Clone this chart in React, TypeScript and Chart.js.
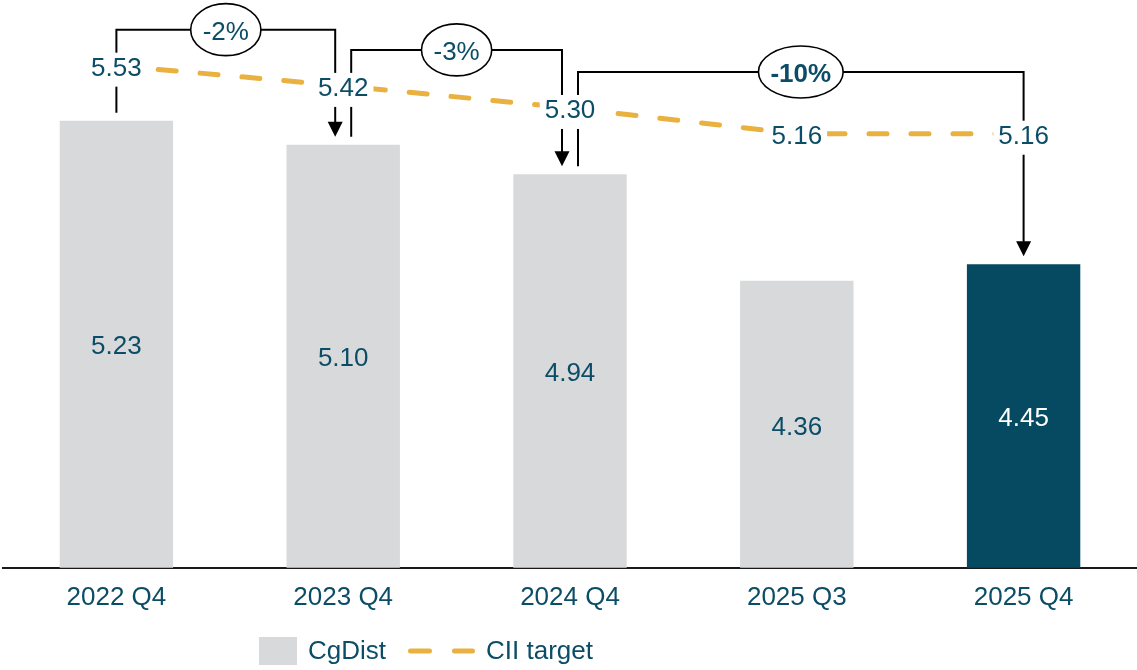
import React, { useEffect, useRef } from "react";
import { Chart, registerables } from "chart.js";

Chart.register(...registerables);

const categories = ["2022 Q4", "2023 Q4", "2024 Q4", "2025 Q3", "2025 Q4"];
const cgDist = [5.23, 5.1, 4.94, 4.36, 4.45];
const ciiTarget = [5.53, 5.42, 5.3, 5.16, 5.16];
const changeFrom = [0, 1, 2];
const changeTo = [1, 2, 4];
const changeLabels = ["-2%", "-3%", "-10%"];
const legendLabels = ["CgDist", "CII target"];

const FONT = "'Liberation Sans', Arial, Helvetica, sans-serif";
const TEAL = "#0B4D66";
const DARK = "#064A61";
const GREY = "#D8D9DB";
const ORANGE = "#E9B13F";

const annotationPlugin = {
  id: "annotations",
  afterDatasetsDraw(chart: any) {
    const ctx = chart.ctx as CanvasRenderingContext2D;
    const xs = chart.scales.x;
    const barMeta = chart.getDatasetMeta(0);
    const lineMeta = chart.getDatasetMeta(1);
    const bottom = chart.chartArea.bottom;
    ctx.save();

    // brackets with arrows and ovals
    changeFrom.forEach((f, k) => {
      const t = changeTo[k];
      const shareStart = changeTo.includes(f);
      const shareEnd = changeFrom.includes(t);
      const x1 = xs.getPixelForValue(f) + (shareStart ? 8 : 0);
      const x2 = xs.getPixelForValue(t) - (shareEnd ? 8 : 0);
      const hy = lineMeta.data[f].y - 36;
      const y1 = barMeta.data[f].y - 8;
      const y2 = barMeta.data[t].y - 8;
      ctx.strokeStyle = "#000";
      ctx.lineWidth = 2;
      ctx.lineJoin = "miter";
      ctx.setLineDash([]);
      ctx.beginPath();
      ctx.moveTo(x1, y1);
      ctx.lineTo(x1, hy);
      ctx.lineTo(x2, hy);
      ctx.lineTo(x2, y2 - 13);
      ctx.stroke();
      ctx.fillStyle = "#000";
      ctx.beginPath();
      ctx.moveTo(x2, y2);
      ctx.lineTo(x2 - 7.5, y2 - 15);
      ctx.lineTo(x2 + 7.5, y2 - 15);
      ctx.closePath();
      ctx.fill();

      const bold = k === changeLabels.length - 1;
      ctx.font = `${bold ? "bold " : ""}26px ${FONT}`;
      const tw = ctx.measureText(changeLabels[k]).width;
      const cx = (x1 + x2) / 2;
      ctx.beginPath();
      ctx.ellipse(cx, hy, tw / 2 + 12, 26, 0, 0, Math.PI * 2);
      ctx.fillStyle = "#fff";
      ctx.fill();
      ctx.lineWidth = 1.6;
      ctx.stroke();
      ctx.fillStyle = TEAL;
      ctx.textAlign = "center";
      ctx.textBaseline = "middle";
      ctx.fillText(changeLabels[k], cx, hy + 3);
    });

    // line labels with white background
    ctx.font = `26px ${FONT}`;
    ctx.textAlign = "center";
    ctx.textBaseline = "middle";
    lineMeta.data.forEach((pt: any, i: number) => {
      const txt = ciiTarget[i].toFixed(2);
      const tw = ctx.measureText(txt).width;
      ctx.fillStyle = "#fff";
      ctx.fillRect(pt.x - tw / 2 - 5, pt.y + 3 - 16, tw + 10, 34);
      ctx.fillStyle = TEAL;
      ctx.fillText(txt, pt.x, pt.y + 3);
    });

    // bar value labels
    barMeta.data.forEach((bar: any, i: number) => {
      const txt = cgDist[i].toFixed(2);
      ctx.fillStyle = i === cgDist.length - 1 ? "#fff" : TEAL;
      ctx.fillText(txt, bar.x, (bar.y + bottom) / 2 + 3);
    });
    ctx.restore();
  },
  afterDraw(chart: any) {
    const ctx = chart.ctx as CanvasRenderingContext2D;
    ctx.save();
    // custom legend
    ctx.fillStyle = GREY;
    ctx.fillRect(259, 637, 38, 28);
    ctx.font = `26px ${FONT}`;
    ctx.textAlign = "left";
    ctx.textBaseline = "middle";
    ctx.fillStyle = TEAL;
    ctx.fillText(legendLabels[0], 308, 652);
    ctx.strokeStyle = ORANGE;
    ctx.lineWidth = 5;
    ctx.lineCap = "round";
    ctx.beginPath();
    ctx.moveTo(410.5, 651);
    ctx.lineTo(429.5, 651);
    ctx.moveTo(454.5, 651);
    ctx.lineTo(472.5, 651);
    ctx.stroke();
    ctx.fillStyle = TEAL;
    ctx.fillText(legendLabels[1], 486, 652);
    ctx.restore();
  },
};

export default function App() {
  const ref = useRef<HTMLCanvasElement | null>(null);
  useEffect(() => {
    if (!ref.current) return;
    Chart.defaults.font.family = FONT;
    const chart = new Chart(ref.current, {
      type: "bar",
      data: {
        labels: categories,
        datasets: [
          {
            type: "bar",
            label: legendLabels[0],
            data: cgDist,
            backgroundColor: cgDist.map((_, i) => (i === cgDist.length - 1 ? DARK : GREY)),
            borderWidth: 0,
            categoryPercentage: 1,
            barPercentage: 0.5,
            order: 2,
          },
          {
            type: "line",
            label: legendLabels[1],
            data: ciiTarget,
            borderColor: ORANGE,
            backgroundColor: ORANGE,
            borderWidth: 5,
            borderDash: [18, 24],
            borderCapStyle: "round",
            pointRadius: 0,
            tension: 0,
            fill: false,
            order: 1,
          } as any,
        ],
      },
      options: {
        responsive: false,
        animation: false,
        devicePixelRatio: 1,
        layout: { padding: { top: 16, left: 3, right: 0, bottom: 43 } },
        plugins: {
          legend: { display: false },
          tooltip: { enabled: false },
        },
        scales: {
          x: {
            offset: true,
            grid: { display: false, drawTicks: false },
            border: { display: true, color: "#1a1a1a", width: 2 },
            ticks: { color: TEAL, font: { size: 26, family: FONT }, padding: 14 },
          },
          y: {
            display: false,
            min: 2.8,
            max: 5.8,
          },
        },
      },
      plugins: [annotationPlugin],
    });
    return () => chart.destroy();
  }, []);
  return (
    <div style={{ position: "fixed", left: 0, top: 0, width: 1137, height: 670, background: "#fff" }}>
      <canvas ref={ref} width={1137} height={670} style={{ display: "block" }} />
    </div>
  );
}
